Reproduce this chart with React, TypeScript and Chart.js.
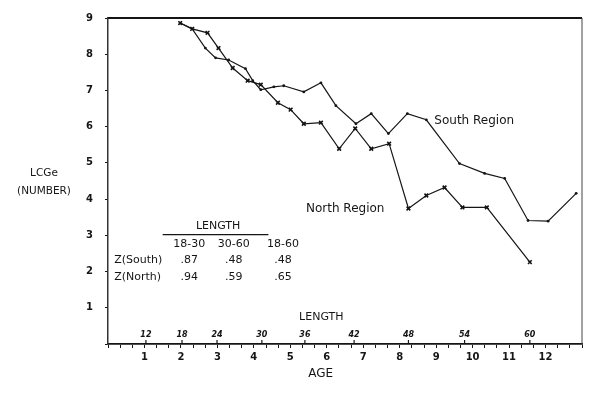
import React, { useEffect, useRef } from 'react';
import { Chart, registerables } from 'chart.js';

Chart.register(...registerables);

// ---- data ----
const southAge = [1.98, 2.31, 2.67, 2.95, 3.31, 3.77, 3.97, 4.19, 4.55, 4.82, 5.37, 5.84, 6.25, 6.8, 7.22, 7.69, 8.21, 8.73, 9.64, 10.33, 10.88, 11.52, 12.07, 12.84];
const southValue = [8.86, 8.7, 8.17, 7.9, 7.84, 7.6, 7.27, 7.02, 7.1, 7.13, 6.96, 7.21, 6.58, 6.08, 6.36, 5.81, 6.36, 6.19, 4.98, 4.71, 4.57, 3.41, 3.39, 4.16];
const northAge = [1.98, 2.31, 2.73, 3.03, 3.42, 3.83, 4.19, 4.66, 5.01, 5.37, 5.84, 6.34, 6.78, 7.22, 7.71, 8.24, 8.73, 9.23, 9.72, 10.39, 11.57];
const northValue = [8.86, 8.7, 8.59, 8.17, 7.62, 7.27, 7.16, 6.66, 6.47, 6.08, 6.11, 5.39, 5.95, 5.39, 5.53, 3.74, 4.1, 4.32, 3.77, 3.77, 2.26];

const lengthLabels = ['12', '18', '24', '30', '36', '42', '48', '54', '60'];
const lengthAtAge = [1.04, 2.03, 2.99, 4.22, 5.4, 6.75, 8.24, 9.78, 11.57];

const tableTitle = 'LENGTH';
const tableHeaders = ['18-30', '30-60', '18-60'];
const tableRowNames = ['Z(South)', 'Z(North)'];
const zSouth = ['.87', '.48', '.48'];
const zNorth = ['.94', '.59', '.65'];

const seriesNames = ['South Region', 'North Region'];
const yTitleLines = ['LCGe', '(NUMBER)'];

const INK = '#151515';
const FONT = '"DejaVu Sans", "Liberation Sans", sans-serif';

const annotations = {
  id: 'annotations',
  afterDraw(chart: any) {
    const { ctx, chartArea, scales } = chart;
    const xs = scales.x;
    const ys = scales.y;
    ctx.save();
    ctx.fillStyle = INK;
    ctx.strokeStyle = INK;

    // frame: heavy top rule and thin right rule
    ctx.lineWidth = 2;
    ctx.beginPath();
    ctx.moveTo(chartArea.left, chartArea.top);
    ctx.lineTo(chartArea.right, chartArea.top);
    ctx.stroke();
    ctx.lineWidth = 1;
    ctx.strokeStyle = '#444';
    ctx.beginPath();
    ctx.moveTo(chartArea.right, chartArea.top);
    ctx.lineTo(chartArea.right, chartArea.bottom);
    ctx.stroke();
    ctx.strokeStyle = INK;

    // length secondary labels
    ctx.font = `italic bold 8px ${FONT}`;
    ctx.textAlign = 'center';
    ctx.textBaseline = 'middle';
    lengthLabels.forEach((lab, i) => {
      const px = xs.getPixelForValue(lengthAtAge[i]);
      ctx.fillText(lab, px, chartArea.bottom - 9);
      ctx.lineWidth = 1.2;
      ctx.beginPath();
      ctx.moveTo(px, chartArea.bottom - 4);
      ctx.lineTo(px, chartArea.bottom);
      ctx.stroke();
    });

    ctx.font = `11px ${FONT}`;
    ctx.fillText('LENGTH', xs.getPixelForValue(5.85), chartArea.bottom - 27);
    ctx.font = `12px ${FONT}`;
    ctx.fillText('AGE', xs.getPixelForValue(5.83), chartArea.bottom + 30);

    // y title (horizontal)
    ctx.font = `10.5px ${FONT}`;
    ctx.fillText(yTitleLines[0], 44, ys.getPixelForValue(4.7));
    ctx.fillText(yTitleLines[1], 44, ys.getPixelForValue(4.23));

    // series labels
    ctx.font = `12px ${FONT}`;
    ctx.textAlign = 'left';
    ctx.fillText(seriesNames[0], xs.getPixelForValue(8.95), ys.getPixelForValue(6.17));
    ctx.fillText(seriesNames[1], xs.getPixelForValue(5.43), ys.getPixelForValue(3.72));

    // table
    const colX = [2.23, 3.45, 4.8];
    ctx.textAlign = 'center';
    ctx.font = `11px ${FONT}`;
    ctx.fillText(tableTitle, xs.getPixelForValue(3.02), ys.getPixelForValue(3.25));
    ctx.lineWidth = 1.3;
    ctx.beginPath();
    ctx.moveTo(xs.getPixelForValue(1.5), ys.getPixelForValue(3.02));
    ctx.lineTo(xs.getPixelForValue(4.4), ys.getPixelForValue(3.02));
    ctx.stroke();
    tableHeaders.forEach((h, i) => {
      ctx.fillText(h, xs.getPixelForValue(colX[i]), ys.getPixelForValue(2.75));
    });
    zSouth.forEach((v, i) => {
      ctx.fillText(v, xs.getPixelForValue(colX[i]), ys.getPixelForValue(2.31));
    });
    zNorth.forEach((v, i) => {
      ctx.fillText(v, xs.getPixelForValue(colX[i]), ys.getPixelForValue(1.84));
    });
    ctx.textAlign = 'left';
    ctx.fillText(tableRowNames[0], xs.getPixelForValue(0.17), ys.getPixelForValue(2.31));
    ctx.fillText(tableRowNames[1], xs.getPixelForValue(0.17), ys.getPixelForValue(1.84));

    ctx.restore();
  },
};

export default function App() {
  const ref = useRef<HTMLCanvasElement | null>(null);

  useEffect(() => {
    document.body.style.margin = '0';
    if (!ref.current) return;
    const chart = new Chart(ref.current, {
      type: 'line',
      data: {
        datasets: [
          {
            label: seriesNames[0],
            data: southAge.map((a, i) => ({ x: a, y: southValue[i] })),
            borderColor: INK,
            backgroundColor: INK,
            borderWidth: 1.2,
            pointStyle: 'circle',
            pointRadius: 1.4,
            pointBorderWidth: 0,
            tension: 0,
          },
          {
            label: seriesNames[1],
            data: northAge.map((a, i) => ({ x: a, y: northValue[i] })),
            borderColor: INK,
            backgroundColor: INK,
            borderWidth: 1.2,
            pointStyle: 'crossRot',
            pointRadius: 2.6,
            pointBorderWidth: 1.6,
            tension: 0,
          },
        ],
      },
      options: {
        animation: false,
        responsive: false,
        maintainAspectRatio: false,
        layout: { padding: { left: 0, top: 17, right: 18, bottom: 0 } },
        plugins: { legend: { display: false }, tooltip: { enabled: false } },
        scales: {
          x: {
            type: 'linear',
            min: 0,
            max: 13,
            afterFit: (s: any) => { s.height = 49; },
            ticks: {
              stepSize: 1 / 3,
              autoSkip: false,
              maxRotation: 0,
              padding: 3,
              color: INK,
              font: { family: FONT, size: 10, weight: 'bold' },
              callback: (v: any) => {
                const n = Number(v);
                const r = Math.round(n);
                if (Math.abs(n - r) < 1e-6 && r >= 1 && r <= 12) return String(r);
                return '';
              },
            },
            grid: { display: true, drawOnChartArea: false, tickLength: 4, color: INK, lineWidth: 1 },
            border: { display: true, color: INK, width: 1.8 },
          },
          y: {
            type: 'linear',
            min: 0,
            max: 9,
            afterFit: (s: any) => { s.width = 108; },
            ticks: {
              stepSize: 1,
              padding: 12,
              color: INK,
              font: { family: FONT, size: 10, weight: 'bold' },
              callback: (v: any) => (Number(v) === 0 ? '' : String(v)),
            },
            grid: { display: true, drawOnChartArea: false, tickLength: 3, color: INK, lineWidth: 1 },
            border: { display: true, color: '#333', width: 1.5 },
          },
        },
      },
      plugins: [annotations],
    });
    return () => chart.destroy();
  }, []);

  return (
    <div style={{ width: 600, height: 393, background: '#fff' }}>
      <canvas ref={ref} width={600} height={393} style={{ display: 'block' }} />
    </div>
  );
}
